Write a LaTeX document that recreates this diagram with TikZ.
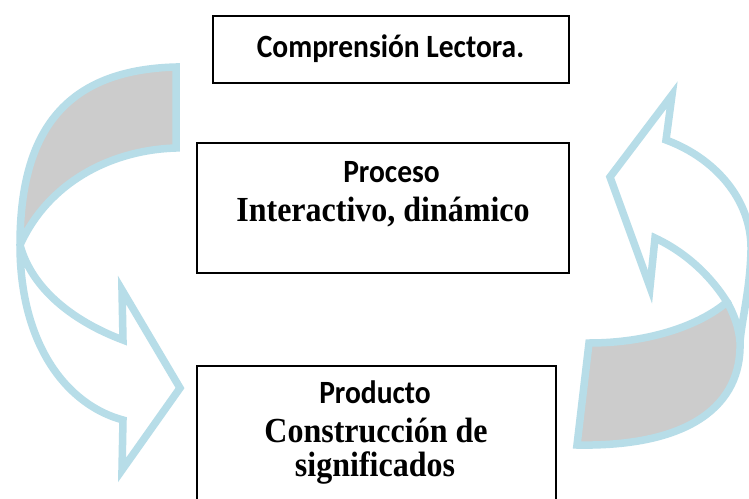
\documentclass[tikz,border=0pt]{standalone}
\usepackage{fontspec}
\newfontfamily\calib{Carlito}
\newfontfamily\tnr{Liberation Serif}
\definecolor{arrowblue}{HTML}{B7DDE8}
\definecolor{backgray}{HTML}{CCCCCC}
\newcommand{\tallr}[1]{\scalebox{1}[1.1]{#1}}
\tikzset{
  box/.style={draw=black, line width=1.8pt, fill=white, inner sep=0pt},
  sanslbl/.style={anchor=base, inner sep=0pt, font=\calib\bfseries\fontsize{29.5}{35}\selectfont},
  seriflbl/.style={anchor=base, inner sep=0pt, font=\tnr\bfseries\fontsize{32}{38}\selectfont},
  arrowline/.style={draw=arrowblue, line width=7.5pt, line join=miter},
  backfill/.style={fill=backgray}
}
\begin{document}
\begin{tikzpicture}[x=1pt, y=-1pt]
\useasboundingbox (0,0) rectangle (749,498);
\fill[white] (0,0) rectangle (749,498);
\begin{scope}
\clip (0,0) rectangle (749,498);
% left curved arrow
\fill[backfill] (176,67) .. controls (62,70) and (20,135) .. (20,245)
  .. controls (48,183) and (110,150) .. (176,148) -- cycle;
\draw[arrowline] (176,67) .. controls (62,70) and (20,135) .. (20,245)
  .. controls (20,345) and (67,405) .. (123,420)
  -- (122,470) -- (180,388) -- (122,290) -- (123,340)
  .. controls (75,322) and (32,290) .. (20,245)
  .. controls (48,183) and (110,150) .. (176,148) -- cycle;
% right curved arrow
\fill[backfill] (589,343) .. controls (650,343) and (700,325) .. (727,302)
  .. controls (734,314) and (739,328) .. (740,342)
  .. controls (742,405) and (690,447) .. (577,445) -- cycle;
\draw[arrowline] (589,343) .. controls (650,343) and (700,325) .. (727,302)
  .. controls (710,275) and (685,252) .. (655,238)
  -- (650,287) -- (610,177) -- (672,95) -- (666,140)
  .. controls (715,158) and (752,200) .. (751,250)
  .. controls (750,290) and (742,318) .. (740,342)
  .. controls (742,405) and (690,447) .. (577,445) -- cycle;
\draw[arrowline] (727,302) .. controls (734,314) and (739,328) .. (740,342);
% boxes
\node[box, minimum width=356pt, minimum height=67pt] (b1) at (391,49.5) {};
\node[box, minimum width=372pt, minimum height=130pt] (b2) at (383,208) {};
\node[box, minimum width=359pt, minimum height=160pt] (b3) at (376.5,446) {};
\end{scope}
% texts
\node[sanslbl] (t1) at (390.5,57) {\tallr{Comprensión Lectora.}};
\node[sanslbl] (t2) at (391.5,182) {\tallr{Proceso}};
\node[seriflbl] (t3) at (383,221) {\tallr{Interactivo, dinámico}};
\node[sanslbl] (t4) at (375,403) {\tallr{Producto}};
\node[seriflbl] (t5) at (376,442) {\tallr{Construcción de}};
\node[seriflbl] (t6) at (375,476) {\tallr{significados}};
\end{tikzpicture}
\end{document}
